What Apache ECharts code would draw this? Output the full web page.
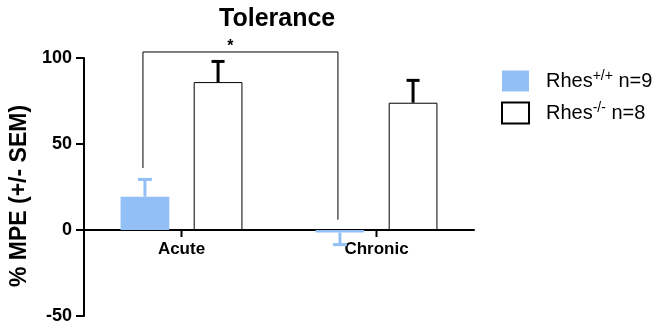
<!DOCTYPE html>
<html><head><meta charset="utf-8">
<script src="https://cdn.jsdelivr.net/npm/echarts@6/dist/echarts.min.js"></script>
<style>html,body{margin:0;padding:0;background:#fff}#c{width:661px;height:329px}</style>
</head><body><div id="c"></div>
<script>
const categories = ['Acute', 'Chronic'];
const wtValues = [19.4, -1.5];
const wtSem = [10, 7];
const koValues = [86, 74];
const koSem = [12, 13];
const seriesNames = ['Rhes+/+ n=9', 'Rhes-/- n=8'];
const yTicks = [-50, 0, 50, 100];
// significance bracket: [top, left bottom, right bottom]
const bracket = [103.5, 36, 6];
const bracketLabel = '*';

const BLUE = '#93BFF7';
const FONT = 'Liberation Sans, Arial';
const GRID = { left: 84, right: 187, top: 58, bottom: 13 };
const PLOT_H = 329 - GRID.top - GRID.bottom;
const yMin = yTicks[0], yMax = yTicks[yTicks.length - 1];
const zeroOffset = -PLOT_H * (0 - yMin) / (yMax - yMin);

const chart = echarts.init(document.getElementById('c'));
const BAR_W = 0.25, GAP = 0.5;
function offsetFor(idx, band) {
  const w = band * BAR_W, g = w * GAP;
  return (idx === 0 ? -1 : 1) * (w / 2 + g / 2);
}
function errRender(idx, color, cap) {
  return function (params, api) {
    const c = api.value(0), v = api.value(1), s = api.value(2);
    const band = api.size([1, 0])[0];
    const x = api.coord([c, 0])[0] + offsetFor(idx, band);
    const y0 = api.coord([c, v])[1];
    const y1 = api.coord([c, v >= 0 ? v + s : v - s])[1];
    return {
      type: 'group', children: [
        { type: 'line', shape: { x1: x, y1: y0, x2: x, y2: y1 }, style: { stroke: color, lineWidth: 3 } },
        { type: 'line', shape: { x1: x - cap / 2, y1: y1, x2: x + cap / 2, y2: y1 }, style: { stroke: color, lineWidth: 3 } }
      ]
    };
  };
}
const option = {
  animation: false,
  title: {
    text: 'Tolerance', left: 214, top: 2,
    textStyle: { fontFamily: FONT, fontWeight: 'bold', fontSize: 25, color: '#000' }
  },
  legend: {
    orient: 'vertical', left: 496, top: 64, itemWidth: 27, itemHeight: 21, itemGap: 8,
    icon: 'rect',
    data: seriesNames,
    formatter: function (n) {
      const m = n.match(/^(Rhes)(\S+)( n=\d+)$/);
      return '{p|}{a|' + m[1] + '}{s|' + m[2] + '}{a|' + m[3] + '}';
    },
    textStyle: {
      fontFamily: FONT, color: '#000', fontSize: 20,
      rich: {
        p: { width: 12 },
        a: { fontFamily: FONT, fontSize: 20, color: '#000', lineHeight: 24 },
        s: { fontFamily: FONT, fontSize: 14, color: '#000', verticalAlign: 'top', lineHeight: 24, padding: [0, 0, 10, 0] }
      }
    }
  },
  grid: Object.assign({ outerBoundsMode: 'none' }, GRID),
  xAxis: {
    type: 'category', data: categories, offset: zeroOffset,
    axisLine: { onZero: false, lineStyle: { color: '#000', width: 2 } },
    axisTick: { show: false },
    axisLabel: { margin: 11, color: '#000', fontWeight: 'bold', fontSize: 17, fontFamily: FONT }
  },
  yAxis: {
    type: 'value', min: yMin, max: yMax, interval: 50,
    name: '% MPE (+/- SEM)', nameLocation: 'middle', nameGap: 49,
    nameTextStyle: { color: '#000', fontWeight: 'bold', fontSize: 23, fontFamily: FONT, padding: [0, 18, 0, 0] },
    axisLine: { show: true, onZero: false, lineStyle: { color: '#000', width: 2 } },
    axisTick: { show: true, length: 8, lineStyle: { color: '#000', width: 2 } },
    axisLabel: { margin: 12, color: '#000', fontWeight: 'bold', fontSize: 18, fontFamily: FONT },
    splitLine: { show: false }
  },
  series: [
    {
      name: seriesNames[0], type: 'bar', data: wtValues, barWidth: '25%', barGap: '50%',
      itemStyle: { color: BLUE }
    },
    {
      name: seriesNames[1], type: 'bar', data: koValues, barWidth: '25%', barGap: '50%',
      itemStyle: { color: '#fff', borderColor: '#000', borderWidth: 1 }
    },
    {
      type: 'custom', z: 5, renderItem: errRender(0, BLUE, 14),
      data: categories.map((c, i) => [i, wtValues[i], wtSem[i]])
    },
    {
      type: 'custom', z: 5, renderItem: errRender(1, '#000', 13),
      data: categories.map((c, i) => [i, koValues[i], koSem[i]])
    },
    {
      // category ticks below the zero line
      type: 'custom', z: 6, clip: false, silent: true,
      renderItem: function (params, api) {
        const p = api.coord([api.value(0), 0]);
        return { type: 'line', shape: { x1: p[0], y1: p[1], x2: p[0], y2: p[1] + 7 }, style: { stroke: '#000', lineWidth: 2 } };
      },
      data: categories.map((c, i) => [i])
    },
    {
      type: 'custom', z: 6, clip: false,
      renderItem: function (params, api) {
        const band = api.size([1, 0])[0];
        const xl = api.coord([0, 0])[0] + offsetFor(0, band) - 2;
        const xr = api.coord([1, 0])[0] + offsetFor(0, band) - 2;
        const yt = api.coord([0, api.value(0)])[1];
        const yl = api.coord([0, api.value(1)])[1];
        const yr = api.coord([0, api.value(2)])[1];
        return {
          type: 'group', children: [
            { type: 'polyline', shape: { points: [[xl, yl], [xl, yt], [xr, yt], [xr, yr]] }, style: { stroke: '#000', lineWidth: 1, fill: null } },
            { type: 'text', x: (xl + xr) / 2 - 10, y: yt + 3, style: { text: bracketLabel, fontSize: 16, fontWeight: 'bold', fontFamily: FONT, fill: '#000', align: 'center', verticalAlign: 'bottom' } }
          ]
        };
      },
      data: [bracket]
    }
  ]
};
chart.setOption(option);
</script></body></html>
